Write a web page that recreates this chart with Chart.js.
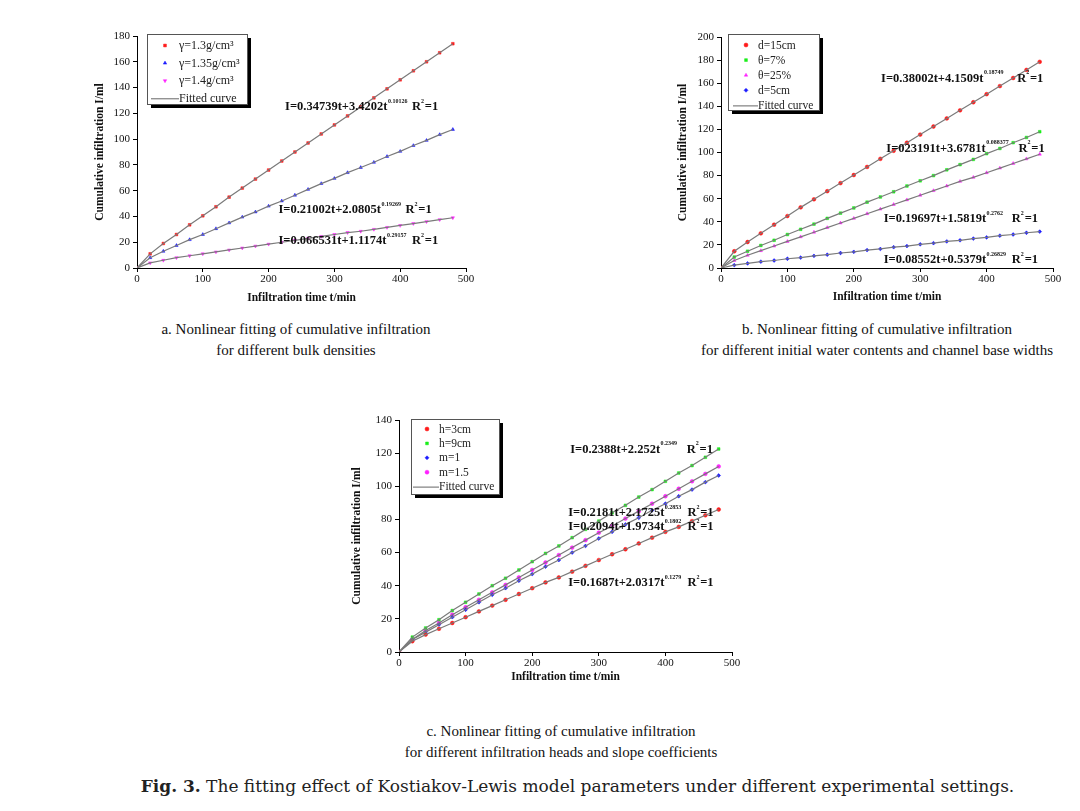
<!DOCTYPE html>
<html><head><meta charset="utf-8">
<script src="https://cdn.jsdelivr.net/npm/chart.js@4.4.0/dist/chart.umd.min.js"></script>
<style>
body{margin:0;background:#fff;width:1080px;height:811px;position:relative;overflow:hidden;font-family:"Liberation Serif",serif;color:#111;}
canvas{position:absolute;}
.cap{position:absolute;text-align:center;font-size:15px;line-height:21px;color:#111;white-space:nowrap;}
.fig{position:absolute;left:0;width:1155px;top:776px;text-align:center;font-family:"DejaVu Serif",serif;font-size:17px;color:#222;white-space:nowrap;}
</style></head><body>
<canvas id="ca"></canvas>
<canvas id="cb"></canvas>
<canvas id="cc"></canvas>
<div class="cap" style="left:96px;width:400px;top:319px">a. Nonlinear fitting of cumulative infiltration<br>for different bulk densities</div>
<div class="cap" style="left:677px;width:400px;top:319px">b. Nonlinear fitting of cumulative infiltration<br>for different initial water contents and channel base widths</div>
<div class="cap" style="left:361px;width:400px;top:721px">c. Nonlinear fitting of cumulative infiltration<br>for different infiltration heads and slope coefficients</div>
<div class="fig"><b>Fig. 3.</b> The fitting effect of Kostiakov-Lewis model parameters under different experimental settings.</div>
<script>
// ---------- DATA ----------
const timeMin = [0,20,40,60,80,100,120,140,160,180,200,220,240,260,280,300,320,340,360,380,400,420,440,460,480];

// Panel a: bulk densities
const aLabels = ['γ=1.3g/cm³','γ=1.35g/cm³','γ=1.4g/cm³'];
const aRho13  = [0,11,19,26,33.5,40.5,47.5,55,62,69,76,83,90,97,104,111,118,125,132,139,146,153,160,167,174];
const aRho135 = [0,8,13,17.5,22,26,30.5,35,39.5,43.5,48,52,56.5,61,65.5,69.5,74,78,82,86.5,90.5,95,99,103.5,107.5];
const aRho14  = [0,4,6,8,9.5,11,12.5,14,15.5,17,18.5,20,21.5,23,24.5,26,27.5,28.5,30,31.5,33,34.5,36,37.5,39];
const aEqBase = ['I=0.34739t+3.4202t','I=0.21002t+2.0805t','I=0.066531t+1.1174t'];
const aEqExp  = ['0.10126','0.19269','0.29157'];

// Panel b: water contents and base widths
const bLabels = ['d=15cm','θ=7%','θ=25%','d=5cm'];
const bD15 = [0,14.5,22.5,30,37.5,45,52.5,59.5,66.5,73.5,80.5,87.5,94.5,101.5,108.5,115.5,122.5,129.5,136.5,143.5,150.5,157.5,164.5,171.5,178.5];
const bT7  = [0,9.5,14.5,19.5,24,29,33.5,38,43,47.5,52,57,61.5,66,71,75.5,80,85,89.5,94,99,103.5,108.5,113,118];
const bT25 = [0,6.5,11,15,19,23,27,31,35,39,43,47,51,55,59,63,67,71,75,78.5,82.5,86.5,90.5,94.5,98.5];
const bD5  = [0,2.5,4,5.5,6.5,8,9,10.5,11.5,13,14,15.5,16.5,18,19,20.5,21.5,23,24,25.5,26.5,28,29,30.5,31.5];
const bEqBase = ['I=0.38002t+4.1509t','I=023191t+3.6781t','I=0.19697t+1.5819t','I=0.08552t+0.5379t'];
const bEqExp  = ['0.18749','0.088377','0.2762','0.26829'];

// Panel c: heads and slope coefficients
const cLabels = ['h=3cm','h=9cm','m=1','m=1.5'];
const cH3  = [0,6.5,10.5,14,17.5,21,24.5,28,31.5,35,38.5,42,45,48.5,52,55.5,59,62,65.5,69,72.5,75.5,79,82.5,86];
const cH9  = [0,9,14.5,19.5,25,30,35,40,44.5,49.5,54.5,59.5,64,69,74,79,84,88.5,93.5,98,103,108,112.5,117.5,122.5];
const cM1  = [0,7.5,12,16.5,21,25.5,30,34.5,38.5,43,47,51.5,55.5,60,64,68.5,72.5,77,81,85.5,89.5,94,98,102.5,106.5];
const cM15 = [0,7.5,13,17.5,22.5,27,31.5,36,40.5,45,49.5,54,58.5,63,67.5,72,76,80.5,85,89.5,94,98.5,103,107.5,112];
const cEqBase = ['I=0.2388t+2.252t','I=0.2181t+2.1725t','I=0.2094t+1.9734t','I=0.1687t+2.0317t'];
const cEqExp  = ['0.2349','0.2853','0.1802','0.1279'];

const fitLabel = 'Fitted curve';
const xTitle = 'Infiltration time t/min';
const yTitle = 'Cumulative infiltration I/ml';

// ---------- BUILDER ----------
const FONT = "'Liberation Serif','Times New Roman',serif";
function makeChart(cfg){
  const cv = document.getElementById(cfg.id);
  const c = cfg.canvas, A = cfg.area;
  cv.width = c.w; cv.height = c.h;
  cv.style.left = c.x + 'px'; cv.style.top = c.y + 'px';
  const datasets = [];
  cfg.series.forEach((s) => {
    datasets.push({type:'line', label:fitLabel, isFit:true,
      data: timeMin.map((t,k)=>({x:t,y:s[k]})),
      borderColor:'#7a7a7a', borderWidth:1.2, pointRadius:0, fill:false, tension:0, order:0});
  });
  cfg.series.forEach((s,i) => {
    datasets.push({type:'scatter', label:cfg.labels[i],
      data: timeMin.map((t,k)=>({x:t,y:s[k]})),
      backgroundColor:cfg.colors[i], borderColor:cfg.colors[i], borderWidth:0.5,
      pointStyle:cfg.shapes[i], pointRotation:cfg.rot ? cfg.rot[i] : 0,
      pointRadius:cfg.radius || 1.8, order:1});
  });

  const legendPlugin = {
    id:'boxLegend',
    afterDatasetsDraw(chart){
      const ctx = chart.ctx, ar = chart.chartArea, L = cfg.legend;
      const x = Math.round(ar.left + L.dx), y = Math.round(ar.top + L.dy);
      ctx.save();
      ctx.fillStyle = '#000';
      ctx.fillRect(x + 4, y + 4, L.w, L.h);
      ctx.fillStyle = '#fff';
      ctx.fillRect(x, y, L.w, L.h);
      ctx.strokeStyle = '#555'; ctx.lineWidth = 1;
      ctx.strokeRect(x + 0.5, y + 0.5, L.w, L.h);
      ctx.font = L.font + 'px ' + FONT;
      ctx.textBaseline = 'middle'; ctx.textAlign = 'left';
      const pts = chart.data.datasets.filter(d => !d.isFit);
      pts.forEach((d, i) => {
        const ry = y + L.row0 + i * L.rowH;
        ctx.fillStyle = d.backgroundColor; ctx.strokeStyle = d.borderColor; ctx.lineWidth = 0.5;
        Chart.helpers.drawPoint(ctx, {pointStyle:d.pointStyle, rotation:d.pointRotation||0, radius:2, borderWidth:0.5}, x + L.mx, ry);
        ctx.fillStyle = '#222';
        ctx.fillText(d.label, x + L.tx, ry + 0.5);
      });
      const fy = y + L.row0 + pts.length * L.rowH;
      ctx.strokeStyle = '#666'; ctx.lineWidth = 1;
      ctx.beginPath(); ctx.moveTo(x + L.lx, fy + 0.5); ctx.lineTo(x + L.tx, fy + 0.5); ctx.stroke();
      ctx.fillStyle = '#222';
      ctx.fillText(fitLabel, x + L.tx, fy + 0.5);
      ctx.restore();
    }
  };

  const eqPlugin = {
    id:'eqText',
    afterDatasetsDraw(chart){
      const ctx = chart.ctx, xs = chart.scales.x, ys = chart.scales.y;
      ctx.save();
      ctx.textBaseline = 'middle'; ctx.textAlign = 'left'; ctx.fillStyle = '#111';
      const big = 'bold 12.5px ' + FONT, small = 'bold 6px ' + FONT;
      const setBig = () => { ctx.font = big; };
      const setSmall = () => { ctx.font = small; };
      cfg.eqBase.forEach((base, i) => {
        const p = cfg.eqPos[i];
        let px = xs.getPixelForValue(p.t), py = ys.getPixelForValue(p.I);
        setBig();
        ctx.fillText(base, px, py);
        px += ctx.measureText(base).width;
        setSmall();
        ctx.fillText(cfg.eqExp[i], px + 0.5, py - 5.5);
        let rx = xs.getPixelForValue(p.tR);
        setBig();
        ctx.fillText('R', rx, py);
        rx += ctx.measureText('R').width;
        setSmall();
        ctx.fillText('2', rx, py - 5.5);
        rx += ctx.measureText('2').width + 0.8;
        setBig();
        ctx.fillText('=1', rx, py);
      });
      ctx.restore();
    }
  };

  const axisW = A.l - c.x, axisH = c.y + c.h - A.b;
  return new Chart(cv, {
    data:{datasets},
    plugins:[legendPlugin, eqPlugin],
    options:{
      responsive:false, animation:false, devicePixelRatio:1,
      layout:{padding:{left:0, top:A.t - c.y, right:c.x + c.w - A.r, bottom:0}},
      plugins:{legend:{display:false}, tooltip:{enabled:false}},
      scales:{
        x:{type:'linear', min:0, max:500,
          ticks:{stepSize:100, font:{family:FONT,size:11}, color:'#111', padding:1, maxRotation:0},
          grid:{display:true, drawOnChartArea:false, drawTicks:true, tickLength:4, color:'#000'},
          border:{color:'#000', width:1},
          title:{display:true, text:xTitle, font:{family:FONT,size:11.5,weight:'bold'}, color:'#111', padding:{top:0,bottom:cfg.xtPad}},
          afterFit(s){ s.height = axisH; }
        },
        y:{type:'linear', min:0, max:cfg.yMax,
          ticks:{stepSize:cfg.yStep, font:{family:FONT,size:11}, color:'#111', padding:3},
          grid:{display:true, drawOnChartArea:false, drawTicks:true, tickLength:4, color:'#000'},
          border:{color:'#000', width:1},
          title:{display:true, text:yTitle, font:{family:FONT,size:11.5,weight:'bold'}, color:'#111', padding:{top:cfg.ytPad,bottom:0}},
          afterFit(s){ s.width = axisW; }
        }
      }
    }
  });
}

makeChart({
  id:'ca', canvas:{x:85,y:20,w:400,h:290}, area:{l:137,t:36,r:466,b:268},
  yMax:180, yStep:20, xtPad:5, ytPad:8.2,
  series:[aRho13, aRho135, aRho14], labels:aLabels,
  colors:['#ff1a1a','#1a1aff','#ff22ff'], shapes:['rect','triangle','triangle'], rot:[0,0,180], radius:1.9,
  eqBase:aEqBase, eqExp:aEqExp,
  eqPos:[{t:225,I:125.2,tR:418},{t:215,I:45,tR:408},{t:215,I:21.2,tR:418}],
  legend:{dx:10,dy:-2,w:100,h:70,row0:11.5,rowH:17.6,mx:18,tx:32,lx:4,font:12}
});
makeChart({
  id:'cb', canvas:{x:660,y:20,w:415,h:290}, area:{l:721,t:37,r:1053,b:268},
  yMax:200, yStep:20, xtPad:6.5, ytPad:16.2,
  series:[bD15, bT7, bT25, bD5], labels:bLabels,
  colors:['#ff1a1a','#1aee1a','#ff22ff','#1a1aff'], shapes:['circle','rect','triangle','rectRot'], radius:1.9,
  eqBase:bEqBase, eqExp:bEqExp,
  eqPos:[{t:241,I:164.2,tR:446},{t:249,I:103.6,tR:448},{t:245,I:42.2,tR:438},{t:245,I:6.9,tR:438}],
  legend:{dx:7,dy:-3,w:91,h:76,row0:11,rowH:15.1,mx:18,tx:30,lx:5,font:11.5}
});
makeChart({
  id:'cc', canvas:{x:340,y:405,w:410,h:290}, area:{l:399,t:420,r:732,b:652},
  yMax:140, yStep:20, xtPad:11.5, ytPad:9.9,
  series:[cH3, cH9, cM1, cM15], labels:cLabels,
  colors:['#ff1a1a','#1aee1a','#1a1aff','#ff22ff'], shapes:['circle','rect','rectRot','circle'], radius:1.9,
  eqBase:cEqBase, eqExp:cEqExp,
  eqPos:[{t:257,I:122.3,tR:432},{t:254,I:83.8,tR:433},{t:254,I:75.3,tR:433},{t:254,I:41.6,tR:433}],
  legend:{dx:12,dy:-1,w:88,h:75,row0:10,rowH:14.4,mx:16,tx:28,lx:2,font:11.5}
});
</script>
</body></html>
